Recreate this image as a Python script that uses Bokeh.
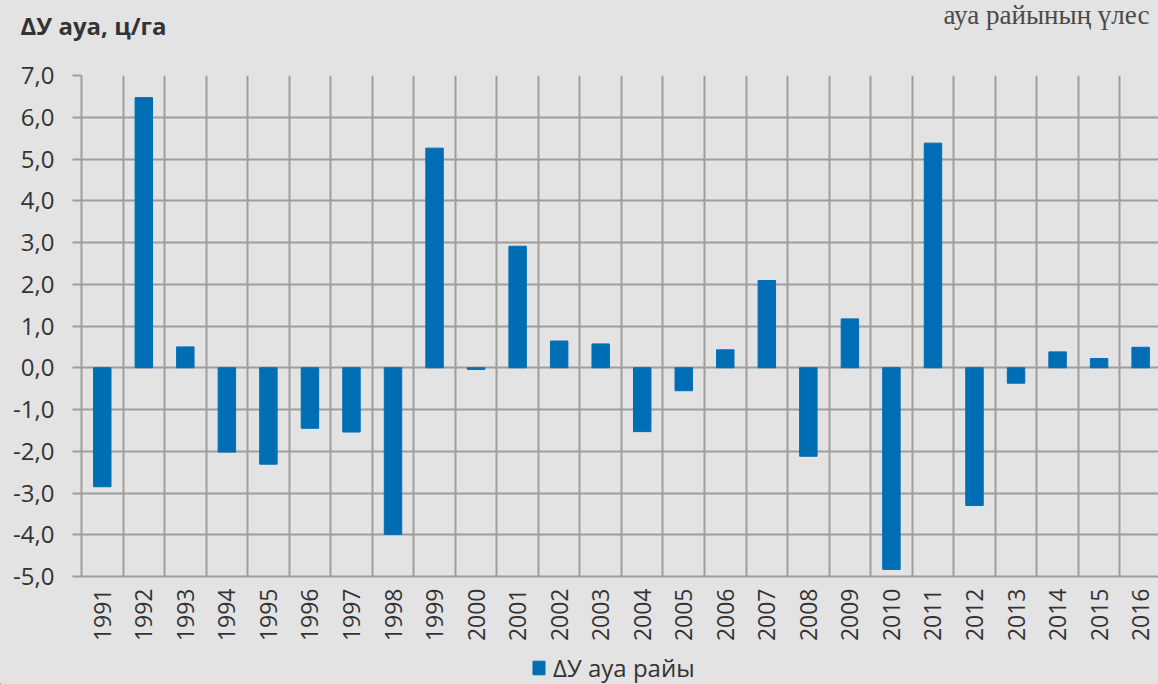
import math
from bokeh.plotting import figure
from bokeh.layouts import column
from bokeh.models import Range1d, FixedTicker, Label, Legend, LegendItem
from bokeh.embed import file_html
from bokeh.resources import INLINE

years = list(range(1991, 2017))
values = [-2.85, 6.47, 0.50, -2.02, -2.31, -1.45, -1.54, -3.99, 5.26, -0.04,
          2.91, 0.64, 0.57, -1.53, -0.55, 0.43, 2.09, -2.12, 1.17, -4.83,
          5.38, -3.30, -0.37, 0.38, 0.22, 0.49]
y_ticks = list(range(-5, 8))
y_tick_labels = {v: f"{v},0" for v in y_ticks}
title_text = "ΔУ ауа, ц/га"
corner_text = "ауа райының үлес"
legend_text = "ΔУ ауа райы"

W = 1158
BG = "#e3e3e3"
GRID = "#9e9e9e"
BAR = "#006eb4"
TXT = "#333333"


def strip(fig):
    fig.background_fill_color = BG
    fig.border_fill_color = BG
    fig.outline_line_color = None
    fig.grid.visible = False
    fig.frame_align = False


# ---- header (title + cropped caption) ----
HEAD_H = 55
head = figure(width=W, height=HEAD_H, output_backend="svg", toolbar_location=None,
              x_range=Range1d(0, W), y_range=Range1d(HEAD_H, 0),
              x_axis_location=None, y_axis_location=None,
              min_border_left=0, min_border_right=0, min_border_top=0, min_border_bottom=0)
strip(head)
head.add_layout(Label(x=20, y=24.5, text=title_text, text_font="Open Sans",
                      text_font_style="bold", text_font_size="24px", text_color=TXT,
                      text_baseline="alphabetic", text_align="left"))
head.add_layout(Label(x=943, y=14.5, text=corner_text, text_font="Liberation Serif",
                      text_font_size="27px", text_color="#4a4a4a",
                      text_baseline="alphabetic", text_align="left"))

# ---- main chart ----
FOOT_H = 36
P_H = 684 - HEAD_H - FOOT_H
TOP = 75 - HEAD_H
p = figure(width=W, height=P_H, output_backend="svg", toolbar_location=None,
           x_range=Range1d(1990.5, 2016.43), y_range=Range1d(-5, 7),
           min_border_left=81, min_border_right=0, min_border_top=TOP,
           min_border_bottom=P_H - TOP - 501)
p.background_fill_color = BG
p.border_fill_color = BG
p.outline_line_color = None
p.frame_align = False

r = p.vbar(x=years, top=values, bottom=0, width=0.42, fill_color=BAR, line_color=BAR)

p.xgrid.ticker = FixedTicker(ticks=[y - 0.5 for y in years] + [years[-1] + 0.5])
p.xgrid.grid_line_color = GRID
p.xgrid.grid_line_width = 2
p.ygrid.ticker = FixedTicker(ticks=y_ticks)
p.ygrid.grid_line_color = GRID
p.ygrid.grid_line_width = 2

ya = p.yaxis[0]
ya.ticker = FixedTicker(ticks=y_ticks)
ya.major_label_overrides = y_tick_labels
ya.axis_line_color = GRID
ya.axis_line_width = 2
ya.major_tick_line_color = GRID
ya.major_tick_line_width = 2
ya.major_tick_out = 9
ya.major_tick_in = 0
ya.minor_tick_line_color = None
ya.major_label_standoff = 18
ya.major_label_text_font = "Open Sans"
ya.major_label_text_font_size = "24px"
ya.major_label_text_color = TXT

xa = p.xaxis[0]
xa.ticker = FixedTicker(ticks=years)
xa.axis_line_color = GRID
xa.axis_line_width = 2
xa.major_tick_line_color = None
xa.major_tick_out = 0
xa.minor_tick_line_color = None
xa.major_label_orientation = math.pi / 2
xa.major_label_standoff = 12
xa.major_label_text_font = "Open Sans"
xa.major_label_text_font_size = "23px"
xa.major_label_text_color = TXT

# ---- footer with legend (key renderer sits outside the visible range) ----
foot = figure(width=W, height=FOOT_H, output_backend="svg", toolbar_location=None,
              x_range=Range1d(0, W), y_range=Range1d(0, FOOT_H),
              x_axis_location=None, y_axis_location=None,
              min_border_left=0, min_border_right=0, min_border_top=0, min_border_bottom=0)
strip(foot)
key = foot.vbar(x=[-500], top=[1], bottom=0, width=10, fill_color=BAR, line_color=BAR)
legend = Legend(items=[LegendItem(label=legend_text, renderers=[key])],
                location=(531, 0), orientation="horizontal",
                background_fill_alpha=0, border_line_color=None,
                padding=0, margin=0, spacing=0,
                glyph_width=15, glyph_height=17, label_standoff=7,
                label_text_font="Open Sans", label_text_font_size="24px",
                label_text_color=TXT)
foot.add_layout(legend, "center")

layout = column(head, p, foot, spacing=0)
layout.styles = {"background-color": BG}
open("out.html", "w").write(file_html(layout, INLINE))
